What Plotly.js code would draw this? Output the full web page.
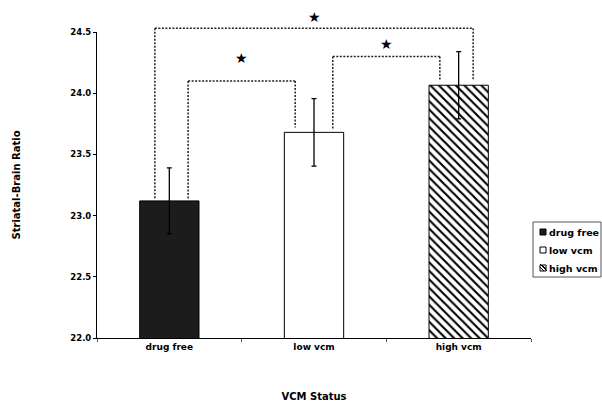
<!DOCTYPE html>
<html><head><meta charset="utf-8">
<script src="https://cdn.plot.ly/plotly-3.0.1.min.js"></script>
<style>html,body{margin:0;padding:0;background:#fff}#chart{width:602px;height:402px}</style>
</head><body><div id="chart"></div>
<script>
// ---- data ----
const categories = ['drug free', 'low vcm', 'high vcm'];
const means = [23.12, 23.68, 24.065];
const errors = [0.27, 0.275, 0.275];
const yTicks = [22.0, 22.5, 23.0, 23.5, 24.0, 24.5];
const sigPairs = [[0, 2], [0, 1], [1, 2]];
const sigLevels = [24.53, 24.10, 24.30];
const sigLabels = ['★', '★', '★'];

const Y0 = 22.0, Y1 = 24.5;
const FONT = 'DejaVu Sans, sans-serif';
const W = 602, H = 402;
const M = {l: 97, r: 71, t: 32, b: 64};
const PW = W - M.l - M.r, PH = H - M.t - M.b;
const toPaperY = v => (v - Y0) / (Y1 - Y0);
const toPaperX = i => (i + 0.5) / categories.length;
const pxX = px => (px - M.l) / PW;
const pxY = py => (H - M.b - py) / PH;

const pat = {shape: '\\', fgcolor: '#000', bgcolor: '#fff', size: 6, solidity: 0.35};
const fills = [{color: '#1c1c1c'}, {color: '#ffffff'}, {color: '#ffffff', pattern: pat}];

const traces = categories.map((c, i) => ({
  type: 'bar',
  name: c,
  x: [c],
  y: [means[i]],
  width: 0.41,
  marker: Object.assign({}, fills[i], {line: {color: '#000', width: 1}}),
  error_y: {type: 'data', array: [errors[i]], visible: true, color: '#000', thickness: 1.3, width: 2.5},
  showlegend: false
}));

const shapes = [];
const annotations = [];
const starLift = [11, 23, 12];
const dotLine = {color: '#222', width: 1.5, dash: '2px,1.5px'};
sigPairs.forEach((p, k) => {
  const [a, b] = p;
  // outer (wide) bracket sits outside the bar centres, inner ones inside
  const off = (b - a) > 1 ? -0.1 : 0.13;
  const xa = toPaperX(a + off), xb = toPaperX(b - off);
  const top = toPaperY(sigLevels[k]);
  const legA = toPaperY(means[a] + 0.02), legB = toPaperY(means[b] + 0.04);
  shapes.push({type: 'line', xref: 'paper', yref: 'paper', x0: xa, x1: xb, y0: top, y1: top, line: dotLine});
  shapes.push({type: 'line', xref: 'paper', yref: 'paper', x0: xa, x1: xa, y0: top, y1: legA, line: dotLine});
  shapes.push({type: 'line', xref: 'paper', yref: 'paper', x0: xb, x1: xb, y0: top, y1: legB, line: dotLine});
  annotations.push({
    xref: 'paper', yref: 'paper', x: (xa + xb) / 2, y: top, yshift: starLift[k],
    text: sigLabels[k], showarrow: false, xanchor: 'center', yanchor: 'middle',
    font: {family: 'DejaVu Sans', size: 14, color: '#000'}
  });
});

// ---- legend box (drawn to match the reference's compact legend) ----
const LG = {x0: 533, x1: 601, y0: 222, y1: 277, sq: 6, sqX: 540, txtX: 547, rows: [232, 250, 268]};
shapes.push({type: 'rect', xref: 'paper', yref: 'paper', x0: pxX(LG.x0), x1: pxX(LG.x1), y0: pxY(LG.y0), y1: pxY(LG.y1),
  line: {color: '#555', width: 1}, fillcolor: '#fff'});
categories.forEach((c, i) => {
  const cy = LG.rows[i];
  const sx0 = LG.sqX, sx1 = LG.sqX + LG.sq, sy0 = cy - LG.sq / 2, sy1 = cy + LG.sq / 2;
  shapes.push({type: 'rect', xref: 'paper', yref: 'paper', x0: pxX(sx0), x1: pxX(sx1), y0: pxY(sy0), y1: pxY(sy1),
    line: {color: '#000', width: 1}, fillcolor: fills[i].color});
  if (fills[i].pattern) {
    const d = [];
    [[sx0, sy0 + 2, sx1 - 2, sy1], [sx0, sy0 - 1, sx1 + 1, sy1], [sx0 + 2, sy0, sx1, sy1 - 2]].forEach(s => {
      d.push('M' + pxX(s[0]) + ',' + pxY(s[1]) + 'L' + pxX(s[2]) + ',' + pxY(s[3]));
    });
    shapes.push({type: 'path', xref: 'paper', yref: 'paper', path: d.join(''), line: {color: '#000', width: 1}});
  }
  annotations.push({xref: 'paper', yref: 'paper', x: pxX(LG.txtX), y: pxY(cy), text: c, showarrow: false,
    xanchor: 'left', yanchor: 'middle', font: {family: FONT, size: 9.5, weight: 'bold', color: '#000'}});
});

const layout = {
  width: W, height: H,
  margin: {l: M.l, r: M.r, t: M.t, b: M.b, pad: 0, autoexpand: false},
  paper_bgcolor: '#fff', plot_bgcolor: '#fff',
  barmode: 'overlay',
  showlegend: false,
  font: {family: FONT, size: 9, color: '#000', weight: 'bold'},
  xaxis: {
    type: 'category', categoryorder: 'array', categoryarray: categories,
    range: [-0.5, 2.5], showline: true, linecolor: '#000', linewidth: 1,
    ticks: 'outside', tickson: 'boundaries', ticklen: 3, tickcolor: '#555',
    showgrid: false, zeroline: false, automargin: false,
    tickfont: {family: FONT, size: 9, weight: 'bold'},
    title: {text: 'VCM Status', standoff: 44, font: {family: FONT, size: 10, weight: 'bold'}}
  },
  yaxis: {
    range: [Y0, Y1], tickvals: yTicks, tickformat: '.1f',
    showline: true, linecolor: '#000', linewidth: 1,
    ticks: 'outside', ticklen: 3, tickcolor: '#000',
    showgrid: false, zeroline: false, automargin: false,
    tickfont: {family: FONT, size: 8.5, weight: 'bold'},
    title: {text: 'Striatal-Brain Ratio', standoff: 47, font: {family: FONT, size: 10, weight: 'bold'}}
  },
  shapes, annotations
};

Plotly.newPlot('chart', traces, layout, {staticPlot: true, displayModeBar: false});
</script>
</body></html>
